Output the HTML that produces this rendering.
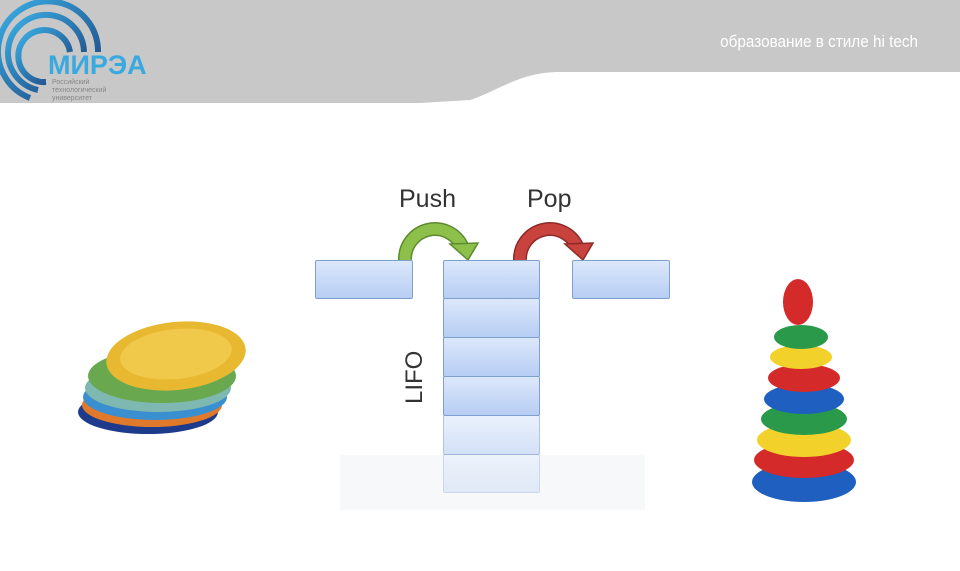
<!DOCTYPE html>
<html><head><meta charset="utf-8"><style>
body{margin:0;width:960px;height:571px;background:#fff;overflow:hidden;position:relative;font-family:"Liberation Sans",sans-serif}
.b{position:absolute;box-sizing:border-box;border:1.5px solid #7f9fcf;background:linear-gradient(#dce8fb,#b7cdf3);border-radius:2px}
</style></head><body>
<svg width="960" height="571" style="position:absolute;left:0;top:0">
<defs><linearGradient id="lg" x1="0" y1="0" x2="1" y2="1"><stop offset="0" stop-color="#3ab0e6"/><stop offset="1" stop-color="#1d3f7a"/></linearGradient></defs>
<path d="M0 0H960V72H560C520 72 500 90 470 100L420 103H0Z" fill="#c8c8c8"/>
<g fill="none" stroke="url(#lg)" stroke-width="6">
<path d="M30 98 A50 50 0 1 1 98 52"/>
<path d="M38 90 A38 38 0 1 1 84 52"/>
<path d="M46 82 A26 26 0 1 1 70 52"/>
</g>
<text x="48" y="74" font-size="27" font-weight="bold" fill="#3aa9e0" font-family="Liberation Sans">МИРЭА</text>
<text x="52" y="84" font-size="7" fill="#888">Российский</text>
<text x="52" y="92" font-size="7" fill="#888">технологический</text>
<text x="52" y="100" font-size="7" fill="#888">университет</text>
<text x="918" y="47" font-size="17" fill="#fff" text-anchor="end" transform="translate(918,0) scale(0.9,1) translate(-918,0)">образование в стиле hi tech</text>
<rect x="340" y="455" width="305" height="55" fill="#f7f8fa"/>
<!-- arrows -->
<path d="M405 260 A30 30 0 0 1 462 246" fill="none" stroke="#5d8a2e" stroke-width="14"/>
<path d="M405 260 A30 30 0 0 1 462 246" fill="none" stroke="#8dc04a" stroke-width="11"/>
<polygon points="450,244 478,243 468,260" fill="#8dc04a" stroke="#5d8a2e" stroke-width="1.5"/>
<path d="M520 260 A30 30 0 0 1 577 246" fill="none" stroke="#8e2a28" stroke-width="14"/>
<path d="M520 260 A30 30 0 0 1 577 246" fill="none" stroke="#c8423e" stroke-width="11"/>
<polygon points="565,244 593,243 583,260" fill="#c8423e" stroke="#8e2a28" stroke-width="1.5"/>
<text x="399" y="207" font-size="25" fill="#333">Push</text>
<text x="527" y="207" font-size="25" fill="#333">Pop</text>
<text transform="translate(422,404) rotate(-90)" font-size="24" fill="#333">LIFO</text>
<!-- plates -->
<ellipse cx="148" cy="412" rx="70" ry="22" fill="#1e3a8a"/>
<ellipse cx="152" cy="405" rx="70" ry="22" fill="#e07a2a"/>
<ellipse cx="155" cy="397" rx="72" ry="23" fill="#3a8fd0"/>
<ellipse cx="158" cy="388" rx="73" ry="24" fill="#7fb8b0"/>
<ellipse cx="162" cy="376" rx="74" ry="27" fill="#6aa84f"/>
<ellipse cx="176" cy="356" rx="70" ry="34" fill="#e8b830" transform="rotate(-6 176 356)"/>
<ellipse cx="176" cy="354" rx="56" ry="25" fill="#f0c84a" transform="rotate(-6 176 354)"/>
<!-- pyramid -->
<ellipse cx="804" cy="482" rx="52" ry="20" fill="#1e5fc0"/>
<ellipse cx="804" cy="460" rx="50" ry="18" fill="#d42a2a"/>
<ellipse cx="804" cy="440" rx="47" ry="17" fill="#f2d22a"/>
<ellipse cx="804" cy="419" rx="43" ry="16" fill="#2a9a4a"/>
<ellipse cx="804" cy="399" rx="40" ry="15" fill="#1e5fc0"/>
<ellipse cx="804" cy="378" rx="36" ry="14" fill="#d42a2a"/>
<ellipse cx="801" cy="357" rx="31" ry="12" fill="#f2d22a"/>
<ellipse cx="801" cy="337" rx="27" ry="12" fill="#2a9a4a"/>
<ellipse cx="798" cy="302" rx="15" ry="23" fill="#d42a2a"/>
</svg>
<div class="b" style="left:315px;top:260px;width:98px;height:39px"></div>
<div class="b" style="left:572px;top:260px;width:98px;height:39px"></div>
<div class="b" style="left:443px;top:260px;width:97px;height:39px"></div>
<div class="b" style="left:443px;top:298px;width:97px;height:40px"></div>
<div class="b" style="left:443px;top:337px;width:97px;height:40px"></div>
<div class="b" style="left:443px;top:376px;width:97px;height:40px"></div>
<div class="b" style="left:443px;top:415px;width:97px;height:40px;opacity:.6"></div>
<div class="b" style="left:443px;top:454px;width:97px;height:39px;opacity:.35"></div>
</body></html>
